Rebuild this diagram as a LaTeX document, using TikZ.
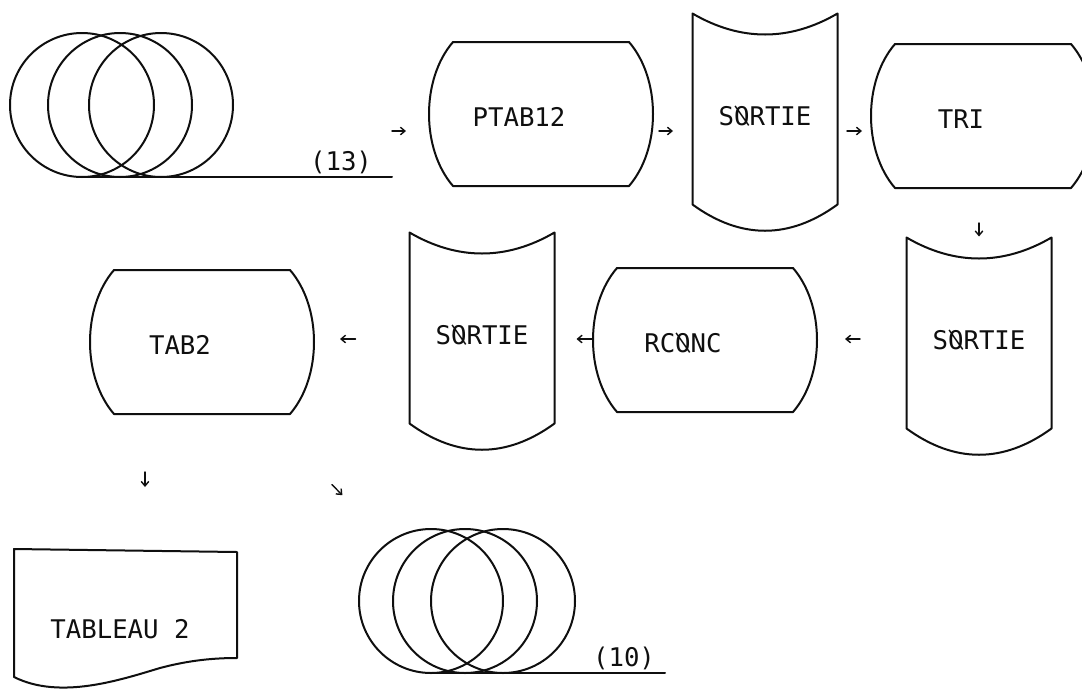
\documentclass[tikz,border=0pt]{standalone}
\usepackage{fontspec}
\usepackage{graphicx}
\usetikzlibrary{arrows.meta,calc}
\newfontfamily\printerfont{DejaVu Sans Mono}
\definecolor{JobInk}{gray}{0.06}
\newcommand{\slashO}{\reflectbox{Ø}}
\tikzset{
    job/diagram/.style={
        x=1pt, y=-1pt,
        font=\printerfont\fontsize{25.7}{30}\selectfont,
        text=JobInk,
        line cap=round,
        line join=round,
        every node/.style={inner sep=0pt, outer sep=0pt}
    },
    job/outline/.style={draw=JobInk, line width=2pt},
    job/name/.style={text=JobInk, text height=18.7pt, text depth=0pt},
    job/program/.style={
        rectangle, draw=none, minimum width=224pt, minimum height=144pt,
        label={[job/name, xshift=-22pt, yshift=-3pt]center:#1}
    },
    job/store/.style={
        rectangle, draw=none, minimum width=145pt, minimum height=217pt,
        label={[job/name, yshift=6pt]center:#1}
    },
    job/report/.style={
        rectangle, draw=none, minimum width=223pt, minimum height=138pt,
        label={[job/name, xshift=-5.5pt, yshift=-11pt]center:#1}
    },
    job/reel/.style 2 args={rectangle, draw=none, minimum width=#1pt, minimum height=#2pt},
    job/flow/.style 2 args={
        draw=JobInk, line width=1.4pt,
        -{Straight Barb[length=4.5pt, width=7.5pt]},
        shorten <=#1pt, shorten >=#2pt
    }
}

\begin{document}
\begin{tikzpicture}[job/diagram]
    \useasboundingbox (0,0) rectangle (1082,689);
    \fill[white] (0,0) rectangle (1082,689);
    % reels
    \foreach \cx in {82,120,161}
        \draw[job/outline] (\cx,105) circle[radius=72pt];
    \draw[job/outline] (80,177) -- (392,177);
    \node[job/reel={382}{144}] (reel13) at (201,105) {};
    \node[job/name] (tag13) at (341,161) {(13)};
    \foreach \cx in {431,465,503}
        \draw[job/outline] (\cx,601) circle[radius=72pt];
    \draw[job/outline] (437,673) -- (665,673);
    \node[job/reel={306}{146}] (reel10) at (512,601) {};
    \node[job/name] (tag10) at (624,657) {(10)};
    % programs and files
    \node[job/program=PTAB12] (ptab) at (541,114) {};
    \node[job/store=S\slashO RTIE] (sortie1) at (765,122) {};
    \node[job/program=TRI] (tri) at (983,116) {};
    \node[job/store=S\slashO RTIE] (sortie2) at (979,346) {};
    \node[job/program=RC\slashO NC] (rconc) at (705,340) {};
    \node[job/store=S\slashO RTIE] (sortie3) at (482,341) {};
    \node[job/program=TAB2] (tab2) at (202,342) {};
    \node[job/report=TABLEAU 2] (tableau) at (125.5,618) {};
    \foreach \n in {ptab,tri,rconc,tab2}
        \draw[job/outline] ($(\n.north west)+(24,0)$) -- ($(\n.north east)+(-24,0)$)
            .. controls ($(\n.north east)+(8,37)$) and ($(\n.south east)+(8,-37)$) .. ($(\n.south east)+(-24,0)$)
            -- ($(\n.south west)+(24,0)$)
            .. controls ($(\n.south west)+(-8,-37)$) and ($(\n.north west)+(-8,37)$) .. cycle;
    \foreach \n in {sortie1,sortie2,sortie3}
        \draw[job/outline] (\n.north west)
            .. controls ($(\n.north west)+(48,28)$) and ($(\n.north east)+(-48,28)$) .. (\n.north east)
            -- ($(\n.south east)+(0,-26)$)
            .. controls ($(\n.south east)+(-48,9)$) and ($(\n.south west)+(48,9)$) .. ($(\n.south west)+(0,-26)$)
            -- cycle;
    \draw[job/outline] (14,549) -- (237,552) -- (237,658)
        .. controls (215,658) and (190,660) .. (160,668)
        .. controls (120,680) and (60,700) .. (14,677) -- cycle;
    % flow
    \coordinate (lane1) at (0,131);
    \coordinate (lane2) at (0,339);
    \coordinate (lane3) at (145,0);
    \draw[job/flow={0}{23}] (reel13.east |- lane1) -- (ptab.west |- lane1);
    \draw[job/flow={6}{19.5}] (ptab.east |- lane1) -- (sortie1.west |- lane1);
    \draw[job/flow={9.5}{9}] (sortie1.east |- lane1) -- (tri.west |- lane1);
    \draw[job/flow={35}{1}] (tri.south -| sortie2.north) -- (sortie2.north);
    \draw[job/flow={46.5}{28}] (sortie2.west |- lane2) -- (rconc.east |- lane2);
    \draw[job/flow={1}{22}] (rconc.west |- lane2) -- (sortie3.east |- lane2);
    \draw[job/flow={54}{26}] (sortie3.west |- lane2) -- (tab2.east |- lane2);
    \draw[job/flow={58}{62}] (tab2.south -| lane3) -- (tableau.north -| lane3);
    \draw[job/flow={99}{46}] (tab2.-50) -- (reel10.152);
\end{tikzpicture}
\end{document}
